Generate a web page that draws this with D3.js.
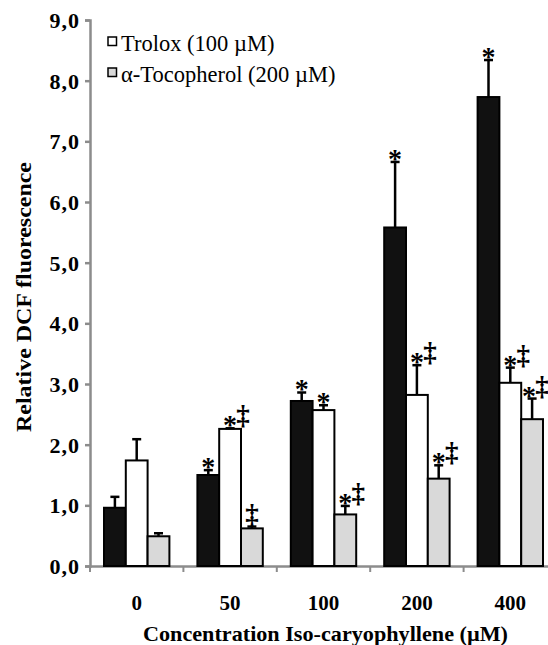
<!DOCTYPE html>
<html>
<head>
<meta charset="utf-8">
<script src="https://cdn.jsdelivr.net/npm/d3@7"></script>
<style>
    body { margin: 0; background: #fff; }
    svg { display: block; font-family: "Liberation Serif", "Times New Roman", serif; }
</style>
</head>
<body>
<div id="chart"></div>
<script>
// Data
var concentrations = ["0", "50", "100", "200", "400"];
var seriesNames = ["Control", "Trolox (100 µM)", "α-Tocopherol (200 µM)"];

var controlMeans = [0.96, 1.50, 2.72, 5.58, 7.73];
var controlErr = [0.18, 0.08, 0.14, 1.08, 0.61];

var troloxMeans = [1.74, 2.26, 2.57, 2.82, 3.02];
var troloxErr = [0.35, 0.01, 0.08, 0.49, 0.25];

var tocoMeans = [0.49, 0.62, 0.85, 1.44, 2.42];
var tocoErr = [0.05, 0.03, 0.14, 0.22, 0.34];

// significance marks per concentration: [control, trolox, tocopherol]
var marks = [
    ["", "", ""],
    ["*", "*‡", "‡"],
    ["*", "*", "*‡"],
    ["*", "*‡", "*‡"],
    ["*", "*‡", "*‡"]
];

var yTicks = [0, 1, 2, 3, 4, 5, 6, 7, 8, 9];

var fills = ["#111111", "#ffffff", "#d9d9d9"];
var axisGray = "#8c8c8c";

// build flat rows for drawing
var allMeans = [controlMeans, troloxMeans, tocoMeans];
var allErr = [controlErr, troloxErr, tocoErr];
var rows = [];
concentrations.forEach(function (c, i) {
    seriesNames.forEach(function (s, j) {
        rows.push({ conc: c, series: s, idx: j, value: allMeans[j][i], err: allErr[j][i], mark: marks[i][j] });
    });
});

var width = 548, height = 645;

var svg = d3.select("#chart")
    .append("svg")
    .attr("width", width)
    .attr("height", height);

// scales
var x0 = d3.scaleBand()
    .domain(concentrations)
    .range([90, 557]);
var x1 = d3.scaleBand()
    .domain(seriesNames)
    .range([14, x0.bandwidth() - 14]);
var y = d3.scaleLinear()
    .domain([0, 9])
    .range([566, 20]);

function barCenter(d) { return x0(d.conc) + x1(d.series) + x1.bandwidth() / 2; }
function errTop(d) { return y(d.value + d.err); }

// position of the double dagger (kept inside the picture) and the star next to it
function daggerX(d) {
    var xx = d.mark === "‡" ? barCenter(d) : barCenter(d) + 13;
    return Math.min(xx, width - 6);
}
function starX(d) {
    if (d.mark.indexOf("‡") < 0) return barCenter(d);
    return Math.min(barCenter(d), daggerX(d) - 13);
}

// y axis
var yAxis = d3.axisLeft(y)
    .tickValues(yTicks)
    .tickSize(5)
    .tickPadding(5)
    .tickFormat(function (d) { return d.toFixed(1).replace(".", ","); });

var gy = svg.append("g")
    .attr("transform", "translate(90,0)")
    .call(yAxis)
    .attr("font-family", "Liberation Serif");
gy.select(".domain").attr("stroke", axisGray).attr("stroke-width", 2.5);
gy.selectAll(".tick line").attr("stroke", axisGray).attr("stroke-width", 2.5);
gy.selectAll(".tick text")
    .style("font-size", "22px")
    .style("font-weight", "bold")
    .style("letter-spacing", "1px")
    .attr("dy", "0.34em")
    .attr("fill", "#000");

// x axis line + ticks at category boundaries
var gx = svg.append("g")
    .attr("transform", "translate(0,566)")
    .call(d3.axisBottom(x0).tickSize(0).tickPadding(29))
    .attr("font-family", "Liberation Serif");
gx.select(".domain").attr("stroke", axisGray).attr("stroke-width", 2.5);
gx.selectAll(".tick text")
    .style("font-size", "21px")
    .style("font-weight", "bold")
    .attr("fill", "#000");

gx.selectAll(".boundary")
    .data(concentrations)
    .enter()
    .append("line")
    .attr("class", "boundary")
    .attr("x1", function (d) { return x0(d); })
    .attr("x2", function (d) { return x0(d); })
    .attr("y1", 0)
    .attr("y2", 6)
    .attr("stroke", axisGray)
    .attr("stroke-width", 2);

// bars
svg.append("g")
    .selectAll("rect")
    .data(rows)
    .enter()
    .append("rect")
    .attr("x", function (d) { return x0(d.conc) + x1(d.series); })
    .attr("y", function (d) { return y(d.value); })
    .attr("width", x1.bandwidth())
    .attr("height", function (d) { return y(0) - y(d.value); })
    .attr("fill", function (d) { return fills[d.idx]; })
    .attr("stroke", "#000")
    .attr("stroke-width", 2);

// error bars (upper only)
var eb = svg.append("g")
    .selectAll("g")
    .data(rows)
    .enter()
    .append("g");

eb.append("line")
    .attr("x1", barCenter)
    .attr("x2", barCenter)
    .attr("y1", function (d) { return y(d.value); })
    .attr("y2", errTop)
    .attr("stroke", "#000")
    .attr("stroke-width", 2.5);

eb.append("line")
    .attr("x1", function (d) { return barCenter(d) - 4.5; })
    .attr("x2", function (d) { return barCenter(d) + 4.5; })
    .attr("y1", errTop)
    .attr("y2", errTop)
    .attr("stroke", "#000")
    .attr("stroke-width", 2.5);

// significance marks
eb.filter(function (d) { return d.mark.indexOf("*") >= 0; })
    .append("text")
    .attr("x", starX)
    .attr("y", function (d) { return errTop(d) + 6; })
    .attr("text-anchor", "middle")
    .style("font-size", "28px")
    .style("font-weight", "bold")
    .text("*");

eb.filter(function (d) { return d.mark.indexOf("‡") >= 0; })
    .append("text")
    .attr("x", daggerX)
    .attr("y", function (d) { return errTop(d) - 4; })
    .attr("text-anchor", "middle")
    .style("font-size", "27px")
    .style("font-weight", "bold")
    .text("‡");

// axis titles
svg.append("text")
    .attr("transform", "translate(31,297) rotate(-90)")
    .attr("text-anchor", "middle")
    .attr("textLength", 270)
    .attr("lengthAdjust", "spacingAndGlyphs")
    .style("font-size", "22px")
    .style("font-weight", "bold")
    .text("Relative DCF fluorescence");

svg.append("text")
    .attr("x", 325.5)
    .attr("y", 641)
    .attr("text-anchor", "middle")
    .attr("textLength", 365)
    .attr("lengthAdjust", "spacingAndGlyphs")
    .style("font-size", "21px")
    .style("font-weight", "bold")
    .text("Concentration Iso-caryophyllene (µM)");

// Handmade legend (control series has no entry)
var legend = svg.append("g");
[1, 2].forEach(function (j, k) {
    legend.append("rect")
        .attr("x", 108)
        .attr("y", 37 + k * 31)
        .attr("width", 8.5)
        .attr("height", 8.5)
        .attr("fill", fills[j])
        .attr("stroke", "#000")
        .attr("stroke-width", 1.5);
    legend.append("text")
        .attr("x", 121)
        .attr("y", 51 + k * 31)
        .style("font-size", "22.5px")
        .text(seriesNames[j]);
});
</script>
</body>
</html>
